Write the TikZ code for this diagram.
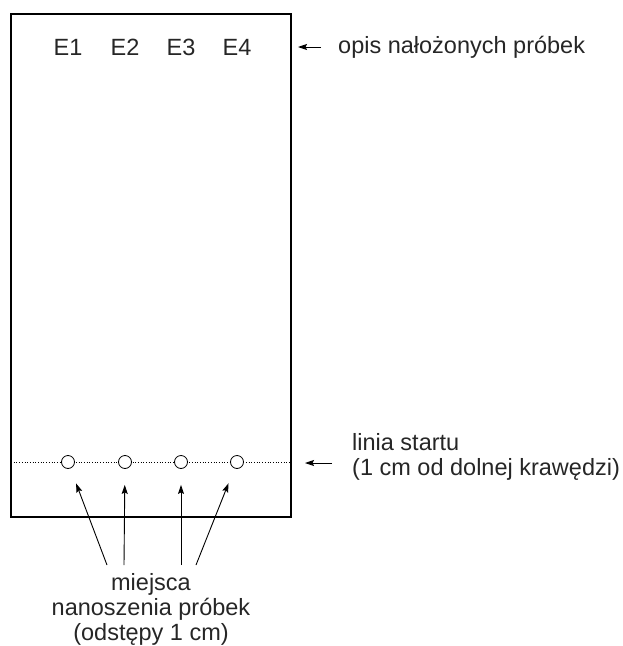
\documentclass[tikz,border=0pt]{standalone}
\usepackage{fontspec}
\setmainfont{Liberation Sans}
\usetikzlibrary{arrows.meta}
\begin{document}
\begin{tikzpicture}[x=1pt,y=-1pt]
\tikzset{tekst/.style={inner sep=0pt, text=black!85, font=\fontsize{23.5}{25}\selectfont},
  miejsce/.style={draw, circle, minimum size=13pt, inner sep=0pt, line width=0.8pt},
  strzalka/.style={-{Stealth[length=9pt,width=6pt,inset=1.5pt]}, line width=0.9pt}}
\useasboundingbox (0,0) rectangle (623,646);
\draw[line width=1.2pt] (11,14) rectangle (291,517);
\draw[dotted, line width=0.7pt] (11,462) -- (291,462);
\node[miejsce, fill=white] (P1) at (68,462) {};
\node[miejsce, fill=white] (P2) at (125,462) {};
\node[miejsce, fill=white] (P3) at (181,462) {};
\node[miejsce, fill=white] (P4) at (237,462) {};
\node[tekst] (E1) at (68,47) {E1};
\node[tekst] (E2) at (125,47) {E2};
\node[tekst] (E3) at (181,47) {E3};
\node[tekst] (E4) at (237,47) {E4};
\node[tekst, anchor=west] (opis) at (338,47) {opis nałożonych próbek};
\coordinate (o1) at (321,47);
\draw[strzalka] (o1) -- ++(-23,0);
\node[tekst, anchor=west, align=left] (linia) at (352,457) {linia startu\\(1 cm od dolnej krawędzi)};
\coordinate (l1) at (332,463);
\draw[strzalka] (l1) -- ++(-27,0);
\node[tekst, align=center] (miejsca) at (151,609) {miejsca\\nanoszenia próbek\\(odstępy 1 cm)};
\coordinate (m1) at (107,565);
\coordinate (m2) at (124,565);
\coordinate (m3) at (181,565);
\coordinate (m4) at (196,565);
\draw[strzalka, shorten >=16pt] (m1) -- (P1);
\draw[strzalka, shorten >=16pt] (m2) -- (P2);
\draw[strzalka, shorten >=16pt] (m3) -- (P3);
\draw[strzalka, shorten >=16pt] (m4) -- (P4);
\end{tikzpicture}
\end{document}
